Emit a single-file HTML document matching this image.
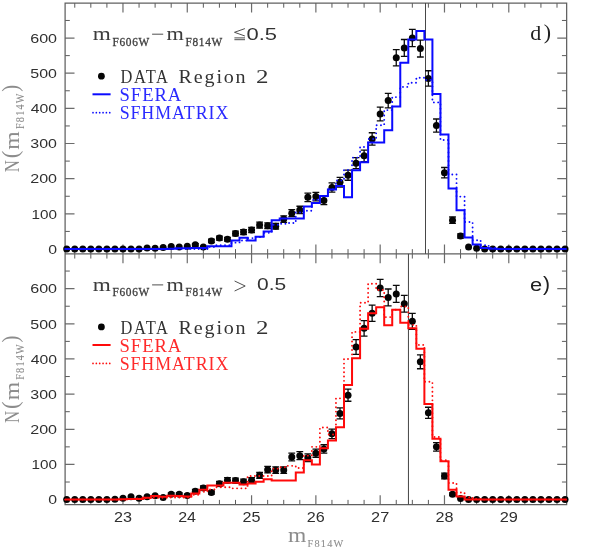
<!DOCTYPE html>
<html><head><meta charset="utf-8"><title>plot</title>
<style>
html,body{margin:0;padding:0;background:#fff;}
svg{display:block}
</style></head><body>
<svg width="598" height="557" viewBox="0 0 598 557">
<rect width="598" height="557" fill="#fff"/>
<!-- frame -->
<path d="M122.97 3.0v9.4 M122.97 244.45V263.25 M122.97 504.6v-9.4 M187.27 3.0v9.4 M187.27 244.45V263.25 M187.27 504.6v-9.4 M251.57 3.0v9.4 M251.57 244.45V263.25 M251.57 504.6v-9.4 M315.87 3.0v9.4 M315.87 244.45V263.25 M315.87 504.6v-9.4 M380.18 3.0v9.4 M380.18 244.45V263.25 M380.18 504.6v-9.4 M444.48 3.0v9.4 M444.48 244.45V263.25 M444.48 504.6v-9.4 M508.78 3.0v9.4 M508.78 244.45V263.25 M508.78 504.6v-9.4 M65.1 249.00h9.4M566.65 249.00h-9.4 M65.1 213.84h9.4M566.65 213.84h-9.4 M65.1 178.68h9.4M566.65 178.68h-9.4 M65.1 143.52h9.4M566.65 143.52h-9.4 M65.1 108.36h9.4M566.65 108.36h-9.4 M65.1 73.20h9.4M566.65 73.20h-9.4 M65.1 38.04h9.4M566.65 38.04h-9.4 M65.1 499.60h9.4M566.65 499.60h-9.4 M65.1 464.44h9.4M566.65 464.44h-9.4 M65.1 429.28h9.4M566.65 429.28h-9.4 M65.1 394.12h9.4M566.65 394.12h-9.4 M65.1 358.96h9.4M566.65 358.96h-9.4 M65.1 323.80h9.4M566.65 323.80h-9.4 M65.1 288.64h9.4M566.65 288.64h-9.4" stroke="#6c6c6c" stroke-width="1.2" fill="none"/>
<path d="M74.75 3.0v4.7 M74.75 249.15V258.55 M74.75 504.6v-4.7 M90.82 3.0v4.7 M90.82 249.15V258.55 M90.82 504.6v-4.7 M106.90 3.0v4.7 M106.90 249.15V258.55 M106.90 504.6v-4.7 M139.05 3.0v4.7 M139.05 249.15V258.55 M139.05 504.6v-4.7 M155.12 3.0v4.7 M155.12 249.15V258.55 M155.12 504.6v-4.7 M171.20 3.0v4.7 M171.20 249.15V258.55 M171.20 504.6v-4.7 M203.35 3.0v4.7 M203.35 249.15V258.55 M203.35 504.6v-4.7 M219.42 3.0v4.7 M219.42 249.15V258.55 M219.42 504.6v-4.7 M235.50 3.0v4.7 M235.50 249.15V258.55 M235.50 504.6v-4.7 M267.65 3.0v4.7 M267.65 249.15V258.55 M267.65 504.6v-4.7 M283.72 3.0v4.7 M283.72 249.15V258.55 M283.72 504.6v-4.7 M299.80 3.0v4.7 M299.80 249.15V258.55 M299.80 504.6v-4.7 M331.95 3.0v4.7 M331.95 249.15V258.55 M331.95 504.6v-4.7 M348.03 3.0v4.7 M348.03 249.15V258.55 M348.03 504.6v-4.7 M364.10 3.0v4.7 M364.10 249.15V258.55 M364.10 504.6v-4.7 M396.25 3.0v4.7 M396.25 249.15V258.55 M396.25 504.6v-4.7 M412.33 3.0v4.7 M412.33 249.15V258.55 M412.33 504.6v-4.7 M428.40 3.0v4.7 M428.40 249.15V258.55 M428.40 504.6v-4.7 M460.55 3.0v4.7 M460.55 249.15V258.55 M460.55 504.6v-4.7 M476.63 3.0v4.7 M476.63 249.15V258.55 M476.63 504.6v-4.7 M492.70 3.0v4.7 M492.70 249.15V258.55 M492.70 504.6v-4.7 M524.85 3.0v4.7 M524.85 249.15V258.55 M524.85 504.6v-4.7 M540.93 3.0v4.7 M540.93 249.15V258.55 M540.93 504.6v-4.7 M557.00 3.0v4.7 M557.00 249.15V258.55 M557.00 504.6v-4.7 M65.1 231.42h4.7M566.65 231.42h-4.7 M65.1 196.26h4.7M566.65 196.26h-4.7 M65.1 161.10h4.7M566.65 161.10h-4.7 M65.1 125.94h4.7M566.65 125.94h-4.7 M65.1 90.78h4.7M566.65 90.78h-4.7 M65.1 55.62h4.7M566.65 55.62h-4.7 M65.1 20.46h4.7M566.65 20.46h-4.7 M65.1 482.02h4.7M566.65 482.02h-4.7 M65.1 446.86h4.7M566.65 446.86h-4.7 M65.1 411.70h4.7M566.65 411.70h-4.7 M65.1 376.54h4.7M566.65 376.54h-4.7 M65.1 341.38h4.7M566.65 341.38h-4.7 M65.1 306.22h4.7M566.65 306.22h-4.7 M65.1 271.06h4.7M566.65 271.06h-4.7" stroke="#484848" stroke-width="0.9" fill="none"/>
<path d="M65.1 3.0H566.65V504.6H65.1Z M65.1 253.85H566.65" stroke="#606060" stroke-width="1.25" fill="none"/>
<!-- vertical marker lines -->
<path d="M425.5 3.0V253.85" stroke="#484848" stroke-width="1"/>
<path d="M408.45 253.85V504.6" stroke="#444" stroke-width="1"/>
<!-- dotted histograms -->
<!-- points -->
<circle cx="66.71" cy="249.00" r="3.5" fill="#050505"/>
<circle cx="74.75" cy="249.00" r="3.5" fill="#050505"/>
<circle cx="82.78" cy="249.00" r="3.5" fill="#050505"/>
<circle cx="90.82" cy="249.00" r="3.5" fill="#050505"/>
<circle cx="98.86" cy="249.00" r="3.5" fill="#050505"/>
<circle cx="106.90" cy="249.00" r="3.5" fill="#050505"/>
<circle cx="114.93" cy="249.00" r="3.5" fill="#050505"/>
<circle cx="122.97" cy="249.00" r="3.5" fill="#050505"/>
<circle cx="131.01" cy="249.00" r="3.5" fill="#050505"/>
<circle cx="139.05" cy="249.00" r="3.5" fill="#050505"/>
<circle cx="147.08" cy="247.95" r="3.5" fill="#050505"/>
<circle cx="155.12" cy="248.30" r="3.5" fill="#050505"/>
<circle cx="163.16" cy="247.59" r="3.5" fill="#050505"/>
<circle cx="171.20" cy="246.54" r="3.5" fill="#050505"/>
<circle cx="179.23" cy="246.89" r="3.5" fill="#050505"/>
<circle cx="187.27" cy="246.19" r="3.5" fill="#050505"/>
<path d="M195.31 243.56V246.00M191.91 243.56h6.8M191.91 246.00h6.8" stroke="#0a0a0a" stroke-width="1.3" fill="none"/>
<circle cx="195.31" cy="244.78" r="3.5" fill="#050505"/>
<circle cx="203.35" cy="246.89" r="3.5" fill="#050505"/>
<path d="M211.39 239.23V242.60M207.99 239.23h6.8M207.99 242.60h6.8" stroke="#0a0a0a" stroke-width="1.3" fill="none"/>
<circle cx="211.39" cy="240.91" r="3.5" fill="#050505"/>
<path d="M219.42 236.14V240.06M216.02 236.14h6.8M216.02 240.06h6.8" stroke="#0a0a0a" stroke-width="1.3" fill="none"/>
<circle cx="219.42" cy="238.10" r="3.5" fill="#050505"/>
<path d="M227.46 237.29V241.02M224.06 237.29h6.8M224.06 241.02h6.8" stroke="#0a0a0a" stroke-width="1.3" fill="none"/>
<circle cx="227.46" cy="239.16" r="3.5" fill="#050505"/>
<path d="M235.50 231.20V235.86M232.10 231.20h6.8M232.10 235.86h6.8" stroke="#0a0a0a" stroke-width="1.3" fill="none"/>
<circle cx="235.50" cy="233.53" r="3.5" fill="#050505"/>
<path d="M243.54 229.69V234.56M240.14 229.69h6.8M240.14 234.56h6.8" stroke="#0a0a0a" stroke-width="1.3" fill="none"/>
<circle cx="243.54" cy="232.12" r="3.5" fill="#050505"/>
<path d="M251.57 227.43V232.60M248.17 227.43h6.8M248.17 232.60h6.8" stroke="#0a0a0a" stroke-width="1.3" fill="none"/>
<circle cx="251.57" cy="230.01" r="3.5" fill="#050505"/>
<path d="M259.61 222.19V227.99M256.21 222.19h6.8M256.21 227.99h6.8" stroke="#0a0a0a" stroke-width="1.3" fill="none"/>
<circle cx="259.61" cy="225.09" r="3.5" fill="#050505"/>
<path d="M267.65 222.94V228.65M264.25 222.94h6.8M264.25 228.65h6.8" stroke="#0a0a0a" stroke-width="1.3" fill="none"/>
<circle cx="267.65" cy="225.79" r="3.5" fill="#050505"/>
<path d="M275.69 223.31V228.98M272.29 223.31h6.8M272.29 228.98h6.8" stroke="#0a0a0a" stroke-width="1.3" fill="none"/>
<circle cx="275.69" cy="226.15" r="3.5" fill="#050505"/>
<path d="M283.72 215.87V222.36M280.32 215.87h6.8M280.32 222.36h6.8" stroke="#0a0a0a" stroke-width="1.3" fill="none"/>
<circle cx="283.72" cy="219.11" r="3.5" fill="#050505"/>
<path d="M291.76 209.59V216.69M288.36 209.59h6.8M288.36 216.69h6.8" stroke="#0a0a0a" stroke-width="1.3" fill="none"/>
<circle cx="291.76" cy="213.14" r="3.5" fill="#050505"/>
<path d="M299.80 206.27V213.68M296.40 206.27h6.8M296.40 213.68h6.8" stroke="#0a0a0a" stroke-width="1.3" fill="none"/>
<circle cx="299.80" cy="209.97" r="3.5" fill="#050505"/>
<path d="M307.84 193.05V201.58M304.44 193.05h6.8M304.44 201.58h6.8" stroke="#0a0a0a" stroke-width="1.3" fill="none"/>
<circle cx="307.84" cy="197.31" r="3.5" fill="#050505"/>
<path d="M315.87 192.32V200.90M312.47 192.32h6.8M312.47 200.90h6.8" stroke="#0a0a0a" stroke-width="1.3" fill="none"/>
<circle cx="315.87" cy="196.61" r="3.5" fill="#050505"/>
<path d="M323.91 196.35V204.61M320.51 196.35h6.8M320.51 204.61h6.8" stroke="#0a0a0a" stroke-width="1.3" fill="none"/>
<circle cx="323.91" cy="200.48" r="3.5" fill="#050505"/>
<path d="M331.95 182.82V192.12M328.55 182.82h6.8M328.55 192.12h6.8" stroke="#0a0a0a" stroke-width="1.3" fill="none"/>
<circle cx="331.95" cy="187.47" r="3.5" fill="#050505"/>
<path d="M339.99 177.35V187.04M336.59 177.35h6.8M336.59 187.04h6.8" stroke="#0a0a0a" stroke-width="1.3" fill="none"/>
<circle cx="339.99" cy="182.20" r="3.5" fill="#050505"/>
<path d="M348.03 170.07V180.26M344.63 170.07h6.8M344.63 180.26h6.8" stroke="#0a0a0a" stroke-width="1.3" fill="none"/>
<circle cx="348.03" cy="175.16" r="3.5" fill="#050505"/>
<path d="M356.06 157.72V168.70M352.66 157.72h6.8M352.66 168.70h6.8" stroke="#0a0a0a" stroke-width="1.3" fill="none"/>
<circle cx="356.06" cy="163.21" r="3.5" fill="#050505"/>
<path d="M364.10 150.10V161.55M360.70 150.10h6.8M360.70 161.55h6.8" stroke="#0a0a0a" stroke-width="1.3" fill="none"/>
<circle cx="364.10" cy="155.83" r="3.5" fill="#050505"/>
<path d="M372.14 132.73V145.17M368.74 132.73h6.8M368.74 145.17h6.8" stroke="#0a0a0a" stroke-width="1.3" fill="none"/>
<circle cx="372.14" cy="138.95" r="3.5" fill="#050505"/>
<path d="M380.18 107.10V120.88M376.78 107.10h6.8M376.78 120.88h6.8" stroke="#0a0a0a" stroke-width="1.3" fill="none"/>
<circle cx="380.18" cy="113.99" r="3.5" fill="#050505"/>
<path d="M388.21 93.40V107.85M384.81 93.40h6.8M384.81 107.85h6.8" stroke="#0a0a0a" stroke-width="1.3" fill="none"/>
<circle cx="388.21" cy="100.62" r="3.5" fill="#050505"/>
<path d="M396.25 49.53V65.93M392.85 49.53h6.8M392.85 65.93h6.8" stroke="#0a0a0a" stroke-width="1.3" fill="none"/>
<circle cx="396.25" cy="57.73" r="3.5" fill="#050505"/>
<path d="M404.29 39.48V56.29M400.89 39.48h6.8M400.89 56.29h6.8" stroke="#0a0a0a" stroke-width="1.3" fill="none"/>
<circle cx="404.29" cy="47.88" r="3.5" fill="#050505"/>
<path d="M412.33 29.43V46.65M408.93 29.43h6.8M408.93 46.65h6.8" stroke="#0a0a0a" stroke-width="1.3" fill="none"/>
<circle cx="412.33" cy="38.04" r="3.5" fill="#050505"/>
<path d="M420.36 40.19V56.98M416.96 40.19h6.8M416.96 56.98h6.8" stroke="#0a0a0a" stroke-width="1.3" fill="none"/>
<circle cx="420.36" cy="48.59" r="3.5" fill="#050505"/>
<path d="M428.40 70.73V86.22M425.00 70.73h6.8M425.00 86.22h6.8" stroke="#0a0a0a" stroke-width="1.3" fill="none"/>
<circle cx="428.40" cy="78.47" r="3.5" fill="#050505"/>
<path d="M436.44 119.00V132.18M433.04 119.00h6.8M433.04 132.18h6.8" stroke="#0a0a0a" stroke-width="1.3" fill="none"/>
<circle cx="436.44" cy="125.59" r="3.5" fill="#050505"/>
<path d="M444.48 167.52V177.88M441.08 167.52h6.8M441.08 177.88h6.8" stroke="#0a0a0a" stroke-width="1.3" fill="none"/>
<circle cx="444.48" cy="172.70" r="3.5" fill="#050505"/>
<path d="M452.52 216.98V223.35M449.12 216.98h6.8M449.12 223.35h6.8" stroke="#0a0a0a" stroke-width="1.3" fill="none"/>
<circle cx="452.52" cy="220.17" r="3.5" fill="#050505"/>
<path d="M460.55 233.85V238.13M457.15 233.85h6.8M457.15 238.13h6.8" stroke="#0a0a0a" stroke-width="1.3" fill="none"/>
<circle cx="460.55" cy="235.99" r="3.5" fill="#050505"/>
<circle cx="468.59" cy="246.89" r="3.5" fill="#050505"/>
<circle cx="476.63" cy="248.30" r="3.5" fill="#050505"/>
<circle cx="484.67" cy="249.00" r="3.5" fill="#050505"/>
<circle cx="492.70" cy="249.00" r="3.5" fill="#050505"/>
<circle cx="500.74" cy="249.00" r="3.5" fill="#050505"/>
<circle cx="508.78" cy="249.00" r="3.5" fill="#050505"/>
<circle cx="516.82" cy="249.00" r="3.5" fill="#050505"/>
<circle cx="524.85" cy="249.00" r="3.5" fill="#050505"/>
<circle cx="532.89" cy="249.00" r="3.5" fill="#050505"/>
<circle cx="540.93" cy="249.00" r="3.5" fill="#050505"/>
<circle cx="548.97" cy="249.00" r="3.5" fill="#050505"/>
<circle cx="557.00" cy="249.00" r="3.5" fill="#050505"/>
<circle cx="565.04" cy="249.00" r="3.5" fill="#050505"/>
<circle cx="66.71" cy="499.60" r="3.5" fill="#050505"/>
<circle cx="74.75" cy="499.60" r="3.5" fill="#050505"/>
<circle cx="82.78" cy="499.60" r="3.5" fill="#050505"/>
<circle cx="90.82" cy="499.60" r="3.5" fill="#050505"/>
<circle cx="98.86" cy="499.60" r="3.5" fill="#050505"/>
<circle cx="106.90" cy="499.60" r="3.5" fill="#050505"/>
<circle cx="114.93" cy="499.25" r="3.5" fill="#050505"/>
<circle cx="122.97" cy="498.19" r="3.5" fill="#050505"/>
<circle cx="131.01" cy="496.79" r="3.5" fill="#050505"/>
<circle cx="139.05" cy="498.19" r="3.5" fill="#050505"/>
<circle cx="147.08" cy="496.79" r="3.5" fill="#050505"/>
<circle cx="155.12" cy="495.73" r="3.5" fill="#050505"/>
<circle cx="163.16" cy="497.49" r="3.5" fill="#050505"/>
<path d="M171.20 492.96V495.69M167.80 492.96h6.8M167.80 495.69h6.8" stroke="#0a0a0a" stroke-width="1.3" fill="none"/>
<circle cx="171.20" cy="494.33" r="3.5" fill="#050505"/>
<path d="M179.23 492.96V495.69M175.83 492.96h6.8M175.83 495.69h6.8" stroke="#0a0a0a" stroke-width="1.3" fill="none"/>
<circle cx="179.23" cy="494.33" r="3.5" fill="#050505"/>
<path d="M187.27 494.16V496.60M183.87 494.16h6.8M183.87 496.60h6.8" stroke="#0a0a0a" stroke-width="1.3" fill="none"/>
<circle cx="187.27" cy="495.38" r="3.5" fill="#050505"/>
<path d="M195.31 489.44V492.88M191.91 489.44h6.8M191.91 492.88h6.8" stroke="#0a0a0a" stroke-width="1.3" fill="none"/>
<circle cx="195.31" cy="491.16" r="3.5" fill="#050505"/>
<path d="M203.35 485.98V490.02M199.95 485.98h6.8M199.95 490.02h6.8" stroke="#0a0a0a" stroke-width="1.3" fill="none"/>
<circle cx="203.35" cy="488.00" r="3.5" fill="#050505"/>
<path d="M211.39 491.00V494.14M207.99 491.00h6.8M207.99 494.14h6.8" stroke="#0a0a0a" stroke-width="1.3" fill="none"/>
<circle cx="211.39" cy="492.57" r="3.5" fill="#050505"/>
<path d="M219.42 481.42V486.14M216.02 481.42h6.8M216.02 486.14h6.8" stroke="#0a0a0a" stroke-width="1.3" fill="none"/>
<circle cx="219.42" cy="483.78" r="3.5" fill="#050505"/>
<path d="M227.46 477.65V482.87M224.06 477.65h6.8M224.06 482.87h6.8" stroke="#0a0a0a" stroke-width="1.3" fill="none"/>
<circle cx="227.46" cy="480.26" r="3.5" fill="#050505"/>
<path d="M235.50 478.03V483.20M232.10 478.03h6.8M232.10 483.20h6.8" stroke="#0a0a0a" stroke-width="1.3" fill="none"/>
<circle cx="235.50" cy="480.61" r="3.5" fill="#050505"/>
<path d="M243.54 479.16V484.18M240.14 479.16h6.8M240.14 484.18h6.8" stroke="#0a0a0a" stroke-width="1.3" fill="none"/>
<circle cx="243.54" cy="481.67" r="3.5" fill="#050505"/>
<path d="M251.57 477.65V482.87M248.17 477.65h6.8M248.17 482.87h6.8" stroke="#0a0a0a" stroke-width="1.3" fill="none"/>
<circle cx="251.57" cy="480.26" r="3.5" fill="#050505"/>
<path d="M259.61 472.42V478.26M256.21 472.42h6.8M256.21 478.26h6.8" stroke="#0a0a0a" stroke-width="1.3" fill="none"/>
<circle cx="259.61" cy="475.34" r="3.5" fill="#050505"/>
<path d="M267.65 466.47V472.96M264.25 466.47h6.8M264.25 472.96h6.8" stroke="#0a0a0a" stroke-width="1.3" fill="none"/>
<circle cx="267.65" cy="469.71" r="3.5" fill="#050505"/>
<path d="M275.69 466.84V473.29M272.29 466.84h6.8M272.29 473.29h6.8" stroke="#0a0a0a" stroke-width="1.3" fill="none"/>
<circle cx="275.69" cy="470.07" r="3.5" fill="#050505"/>
<path d="M283.72 466.84V473.29M280.32 466.84h6.8M280.32 473.29h6.8" stroke="#0a0a0a" stroke-width="1.3" fill="none"/>
<circle cx="283.72" cy="470.07" r="3.5" fill="#050505"/>
<path d="M291.76 453.19V460.92M288.36 453.19h6.8M288.36 460.92h6.8" stroke="#0a0a0a" stroke-width="1.3" fill="none"/>
<circle cx="291.76" cy="457.06" r="3.5" fill="#050505"/>
<path d="M299.80 451.72V459.58M296.40 451.72h6.8M296.40 459.58h6.8" stroke="#0a0a0a" stroke-width="1.3" fill="none"/>
<circle cx="299.80" cy="455.65" r="3.5" fill="#050505"/>
<path d="M307.84 453.92V461.60M304.44 453.92h6.8M304.44 461.60h6.8" stroke="#0a0a0a" stroke-width="1.3" fill="none"/>
<circle cx="307.84" cy="457.76" r="3.5" fill="#050505"/>
<path d="M315.87 449.15V457.23M312.47 449.15h6.8M312.47 457.23h6.8" stroke="#0a0a0a" stroke-width="1.3" fill="none"/>
<circle cx="315.87" cy="453.19" r="3.5" fill="#050505"/>
<path d="M323.91 444.75V453.19M320.51 444.75h6.8M320.51 453.19h6.8" stroke="#0a0a0a" stroke-width="1.3" fill="none"/>
<circle cx="323.91" cy="448.97" r="3.5" fill="#050505"/>
<path d="M331.95 429.04V438.66M328.55 429.04h6.8M328.55 438.66h6.8" stroke="#0a0a0a" stroke-width="1.3" fill="none"/>
<circle cx="331.95" cy="433.85" r="3.5" fill="#050505"/>
<path d="M339.99 407.95V418.96M336.59 407.95h6.8M336.59 418.96h6.8" stroke="#0a0a0a" stroke-width="1.3" fill="none"/>
<circle cx="339.99" cy="413.46" r="3.5" fill="#050505"/>
<path d="M348.03 389.12V401.23M344.63 389.12h6.8M344.63 401.23h6.8" stroke="#0a0a0a" stroke-width="1.3" fill="none"/>
<circle cx="348.03" cy="395.17" r="3.5" fill="#050505"/>
<path d="M356.06 339.68V354.33M352.66 339.68h6.8M352.66 354.33h6.8" stroke="#0a0a0a" stroke-width="1.3" fill="none"/>
<circle cx="356.06" cy="347.01" r="3.5" fill="#050505"/>
<path d="M364.10 320.61V336.13M360.70 320.61h6.8M360.70 336.13h6.8" stroke="#0a0a0a" stroke-width="1.3" fill="none"/>
<circle cx="364.10" cy="328.37" r="3.5" fill="#050505"/>
<path d="M372.14 305.16V321.35M368.74 305.16h6.8M368.74 321.35h6.8" stroke="#0a0a0a" stroke-width="1.3" fill="none"/>
<circle cx="372.14" cy="313.25" r="3.5" fill="#050505"/>
<path d="M380.18 279.31V296.56M376.78 279.31h6.8M376.78 296.56h6.8" stroke="#0a0a0a" stroke-width="1.3" fill="none"/>
<circle cx="380.18" cy="287.94" r="3.5" fill="#050505"/>
<path d="M388.21 289.00V305.86M384.81 289.00h6.8M384.81 305.86h6.8" stroke="#0a0a0a" stroke-width="1.3" fill="none"/>
<circle cx="388.21" cy="297.43" r="3.5" fill="#050505"/>
<path d="M396.25 285.41V302.42M392.85 285.41h6.8M392.85 302.42h6.8" stroke="#0a0a0a" stroke-width="1.3" fill="none"/>
<circle cx="396.25" cy="293.91" r="3.5" fill="#050505"/>
<path d="M404.29 295.46V312.06M400.89 295.46h6.8M400.89 312.06h6.8" stroke="#0a0a0a" stroke-width="1.3" fill="none"/>
<circle cx="404.29" cy="303.76" r="3.5" fill="#050505"/>
<path d="M412.33 313.42V329.26M408.93 313.42h6.8M408.93 329.26h6.8" stroke="#0a0a0a" stroke-width="1.3" fill="none"/>
<circle cx="412.33" cy="321.34" r="3.5" fill="#050505"/>
<path d="M420.36 354.81V368.73M416.96 354.81h6.8M416.96 368.73h6.8" stroke="#0a0a0a" stroke-width="1.3" fill="none"/>
<circle cx="420.36" cy="361.77" r="3.5" fill="#050505"/>
<path d="M428.40 407.23V418.28M425.00 407.23h6.8M425.00 418.28h6.8" stroke="#0a0a0a" stroke-width="1.3" fill="none"/>
<circle cx="428.40" cy="412.75" r="3.5" fill="#050505"/>
<path d="M436.44 442.55V451.17M433.04 442.55h6.8M433.04 451.17h6.8" stroke="#0a0a0a" stroke-width="1.3" fill="none"/>
<circle cx="436.44" cy="446.86" r="3.5" fill="#050505"/>
<path d="M444.48 473.16V478.92M441.08 473.16h6.8M441.08 478.92h6.8" stroke="#0a0a0a" stroke-width="1.3" fill="none"/>
<circle cx="444.48" cy="476.04" r="3.5" fill="#050505"/>
<path d="M452.52 492.96V495.69M449.12 492.96h6.8M449.12 495.69h6.8" stroke="#0a0a0a" stroke-width="1.3" fill="none"/>
<circle cx="452.52" cy="494.33" r="3.5" fill="#050505"/>
<circle cx="460.55" cy="498.55" r="3.5" fill="#050505"/>
<circle cx="468.59" cy="499.60" r="3.5" fill="#050505"/>
<circle cx="476.63" cy="499.60" r="3.5" fill="#050505"/>
<circle cx="484.67" cy="499.60" r="3.5" fill="#050505"/>
<circle cx="492.70" cy="499.60" r="3.5" fill="#050505"/>
<circle cx="500.74" cy="499.60" r="3.5" fill="#050505"/>
<circle cx="508.78" cy="499.60" r="3.5" fill="#050505"/>
<circle cx="516.82" cy="499.60" r="3.5" fill="#050505"/>
<circle cx="524.85" cy="499.60" r="3.5" fill="#050505"/>
<circle cx="532.89" cy="499.60" r="3.5" fill="#050505"/>
<circle cx="540.93" cy="499.60" r="3.5" fill="#050505"/>
<circle cx="548.97" cy="499.60" r="3.5" fill="#050505"/>
<circle cx="557.00" cy="499.60" r="3.5" fill="#050505"/>
<circle cx="565.04" cy="499.60" r="3.5" fill="#050505"/>
<!-- solid histograms -->
<path d="M65.10 249.00 L70.73 249.00 L70.73 249.00 L78.76 249.00 L78.76 249.00 L86.80 249.00 L86.80 249.00 L94.84 249.00 L94.84 249.00 L102.88 249.00 L102.88 249.00 L110.91 249.00 L110.91 249.00 L118.95 249.00 L118.95 249.00 L126.99 249.00 L126.99 249.00 L135.03 249.00 L135.03 249.00 L143.07 249.00 L143.07 249.00 L151.10 249.00 L151.10 249.00 L159.14 249.00 L159.14 249.00 L167.18 249.00 L167.18 248.65 L175.22 248.65 L175.22 248.30 L183.25 248.30 L183.25 248.30 L191.29 248.30 L191.29 247.95 L199.33 247.95 L199.33 247.95 L207.37 247.95 L207.37 246.19 L215.40 246.19 L215.40 246.19 L223.44 246.19 L223.44 246.19 L231.48 246.19 L231.48 240.56 L239.52 240.56 L239.52 237.75 L247.55 237.75 L247.55 240.56 L255.59 240.56 L255.59 236.69 L263.63 236.69 L263.63 231.42 L271.67 231.42 L271.67 220.17 L279.71 220.17 L279.71 218.41 L287.74 218.41 L287.74 218.41 L295.78 218.41 L295.78 218.41 L303.82 218.41 L303.82 206.46 L311.86 206.46 L311.86 202.94 L319.89 202.94 L319.89 195.91 L327.93 195.91 L327.93 189.58 L335.97 189.58 L335.97 186.06 L344.01 186.06 L344.01 197.31 L352.04 197.31 L352.04 170.24 L360.08 170.24 L360.08 162.15 L368.12 162.15 L368.12 142.47 L376.16 142.47 L376.16 142.47 L384.20 142.47 L384.20 130.16 L392.23 130.16 L392.23 106.60 L400.27 106.60 L400.27 62.65 L408.31 62.65 L408.31 39.45 L416.35 39.45 L416.35 31.01 L424.38 31.01 L424.38 39.45 L432.42 39.45 L432.42 93.94 L440.46 93.94 L440.46 134.38 L448.50 134.38 L448.50 188.52 L456.53 188.52 L456.53 210.32 L464.57 210.32 L464.57 237.40 L472.61 237.40 L472.61 244.43 L480.65 244.43 L480.65 247.95 L488.68 247.95 L488.68 248.65 L496.72 248.65 L496.72 249.00 L504.76 249.00 L504.76 249.00 L512.80 249.00 L512.80 249.00 L520.84 249.00 L520.84 249.00 L528.87 249.00 L528.87 249.00 L536.91 249.00 L536.91 249.00 L544.95 249.00 L544.95 249.00 L552.99 249.00 L552.99 249.00 L561.02 249.00 L561.02 249.00 L566.65 249.00" fill="none" stroke="#0a0aff" stroke-width="2" stroke-linejoin="miter"/>
<path d="M65.10 499.60 L70.73 499.60 L70.73 499.60 L78.76 499.60 L78.76 499.60 L86.80 499.60 L86.80 499.60 L94.84 499.60 L94.84 499.60 L102.88 499.60 L102.88 499.60 L110.91 499.60 L110.91 499.60 L118.95 499.60 L118.95 499.25 L126.99 499.25 L126.99 498.90 L135.03 498.90 L135.03 498.90 L143.07 498.90 L143.07 497.84 L151.10 497.84 L151.10 496.08 L159.14 496.08 L159.14 496.79 L167.18 496.79 L167.18 495.73 L175.22 495.73 L175.22 496.08 L183.25 496.08 L183.25 496.44 L191.29 496.44 L191.29 493.62 L199.33 493.62 L199.33 489.76 L207.37 489.76 L207.37 485.54 L215.40 485.54 L215.40 485.54 L223.44 485.54 L223.44 482.72 L231.48 482.72 L231.48 482.72 L239.52 482.72 L239.52 484.48 L247.55 484.48 L247.55 483.43 L255.59 483.43 L255.59 481.67 L263.63 481.67 L263.63 479.21 L271.67 479.21 L271.67 480.61 L279.71 480.61 L279.71 480.61 L287.74 480.61 L287.74 480.61 L295.78 480.61 L295.78 472.53 L303.82 472.53 L303.82 460.22 L311.86 460.22 L311.86 464.44 L319.89 464.44 L319.89 448.27 L327.93 448.27 L327.93 440.53 L335.97 440.53 L335.97 427.17 L344.01 427.17 L344.01 384.98 L352.04 384.98 L352.04 358.26 L360.08 358.26 L360.08 328.72 L368.12 328.72 L368.12 313.25 L376.16 313.25 L376.16 307.27 L384.20 307.27 L384.20 325.21 L392.23 325.21 L392.23 309.74 L400.27 309.74 L400.27 322.75 L408.31 322.75 L408.31 328.37 L416.35 328.37 L416.35 348.76 L424.38 348.76 L424.38 403.96 L432.42 403.96 L432.42 438.77 L440.46 438.77 L440.46 461.28 L448.50 461.28 L448.50 489.76 L456.53 489.76 L456.53 496.44 L464.57 496.44 L464.57 499.60 L472.61 499.60 L472.61 499.60 L480.65 499.60 L480.65 499.60 L488.68 499.60 L488.68 499.60 L496.72 499.60 L496.72 499.60 L504.76 499.60 L504.76 499.60 L512.80 499.60 L512.80 499.60 L520.84 499.60 L520.84 499.60 L528.87 499.60 L528.87 499.60 L536.91 499.60 L536.91 499.60 L544.95 499.60 L544.95 499.60 L552.99 499.60 L552.99 499.60 L561.02 499.60 L561.02 499.60 L566.65 499.60" fill="none" stroke="#ff0a0a" stroke-width="2" stroke-linejoin="miter"/>
<!-- dotted histograms -->
<path d="M65.10 249.00 L70.73 249.00 L70.73 249.00 L78.76 249.00 L78.76 249.00 L86.80 249.00 L86.80 249.00 L94.84 249.00 L94.84 249.00 L102.88 249.00 L102.88 249.00 L110.91 249.00 L110.91 249.00 L118.95 249.00 L118.95 249.00 L126.99 249.00 L126.99 249.00 L135.03 249.00 L135.03 249.00 L143.07 249.00 L143.07 249.00 L151.10 249.00 L151.10 249.00 L159.14 249.00 L159.14 249.00 L167.18 249.00 L167.18 249.00 L175.22 249.00 L175.22 249.00 L183.25 249.00 L183.25 249.00 L191.29 249.00 L191.29 249.00 L199.33 249.00 L199.33 249.00 L207.37 249.00 L207.37 246.89 L215.40 246.89 L215.40 245.13 L223.44 245.13 L223.44 245.13 L231.48 245.13 L231.48 242.67 L239.52 242.67 L239.52 240.56 L247.55 240.56 L247.55 238.10 L255.59 238.10 L255.59 237.05 L263.63 237.05 L263.63 232.83 L271.67 232.83 L271.67 224.74 L279.71 224.74 L279.71 223.68 L287.74 223.68 L287.74 222.98 L295.78 222.98 L295.78 212.43 L303.82 212.43 L303.82 210.68 L311.86 210.68 L311.86 199.78 L319.89 199.78 L319.89 196.26 L327.93 196.26 L327.93 189.23 L335.97 189.23 L335.97 180.44 L344.01 180.44 L344.01 169.89 L352.04 169.89 L352.04 157.58 L360.08 157.58 L360.08 147.04 L368.12 147.04 L368.12 138.95 L376.16 138.95 L376.16 125.24 L384.20 125.24 L384.20 110.12 L392.23 110.12 L392.23 97.11 L400.27 97.11 L400.27 86.91 L408.31 86.91 L408.31 82.69 L416.35 82.69 L416.35 77.77 L424.38 77.77 L424.38 79.88 L432.42 79.88 L432.42 102.38 L440.46 102.38 L440.46 140.00 L448.50 140.00 L448.50 174.46 L456.53 174.46 L456.53 196.61 L464.57 196.61 L464.57 221.93 L472.61 221.93 L472.61 240.21 L480.65 240.21 L480.65 245.13 L488.68 245.13 L488.68 247.95 L496.72 247.95 L496.72 249.00 L504.76 249.00 L504.76 249.00 L512.80 249.00 L512.80 249.00 L520.84 249.00 L520.84 249.00 L528.87 249.00 L528.87 249.00 L536.91 249.00 L536.91 249.00 L544.95 249.00 L544.95 249.00 L552.99 249.00 L552.99 249.00 L561.02 249.00 L561.02 249.00 L566.65 249.00" fill="none" stroke="#0a0aff" stroke-width="1.9" stroke-linecap="round" stroke-dasharray="0.01 4.3"/>
<path d="M65.10 499.60 L70.73 499.60 L70.73 499.60 L78.76 499.60 L78.76 499.60 L86.80 499.60 L86.80 499.60 L94.84 499.60 L94.84 499.60 L102.88 499.60 L102.88 499.60 L110.91 499.60 L110.91 499.60 L118.95 499.60 L118.95 499.60 L126.99 499.60 L126.99 498.90 L135.03 498.90 L135.03 498.55 L143.07 498.55 L143.07 498.19 L151.10 498.19 L151.10 497.84 L159.14 497.84 L159.14 497.84 L167.18 497.84 L167.18 497.49 L175.22 497.49 L175.22 497.49 L183.25 497.49 L183.25 497.49 L191.29 497.49 L191.29 494.68 L199.33 494.68 L199.33 491.86 L207.37 491.86 L207.37 489.40 L215.40 489.40 L215.40 487.29 L223.44 487.29 L223.44 487.29 L231.48 487.29 L231.48 488.35 L239.52 488.35 L239.52 488.35 L247.55 488.35 L247.55 476.04 L255.59 476.04 L255.59 476.04 L263.63 476.04 L263.63 476.04 L271.67 476.04 L271.67 468.66 L279.71 468.66 L279.71 467.25 L287.74 467.25 L287.74 465.85 L295.78 465.85 L295.78 467.96 L303.82 467.96 L303.82 455.65 L311.86 455.65 L311.86 446.86 L319.89 446.86 L319.89 427.52 L327.93 427.52 L327.93 434.55 L335.97 434.55 L335.97 398.34 L344.01 398.34 L344.01 358.96 L352.04 358.96 L352.04 331.89 L360.08 331.89 L360.08 302.70 L368.12 302.70 L368.12 283.72 L376.16 283.72 L376.16 290.05 L384.20 290.05 L384.20 317.12 L392.23 317.12 L392.23 309.74 L400.27 309.74 L400.27 306.57 L408.31 306.57 L408.31 324.85 L416.35 324.85 L416.35 344.90 L424.38 344.90 L424.38 381.81 L432.42 381.81 L432.42 437.02 L440.46 437.02 L440.46 460.22 L448.50 460.22 L448.50 483.07 L456.53 483.07 L456.53 492.57 L464.57 492.57 L464.57 497.14 L472.61 497.14 L472.61 498.90 L480.65 498.90 L480.65 499.60 L488.68 499.60 L488.68 499.60 L496.72 499.60 L496.72 499.60 L504.76 499.60 L504.76 499.60 L512.80 499.60 L512.80 499.60 L520.84 499.60 L520.84 499.60 L528.87 499.60 L528.87 499.60 L536.91 499.60 L536.91 499.60 L544.95 499.60 L544.95 499.60 L552.99 499.60 L552.99 499.60 L561.02 499.60 L561.02 499.60 L566.65 499.60" fill="none" stroke="#ff0a0a" stroke-width="1.9" stroke-linecap="round" stroke-dasharray="0.01 4.3"/>
<circle cx="101.4" cy="76.20" r="3.4" fill="#050505"/>
<path d="M92.5 94.30H110.6" stroke="#0a0aff" stroke-width="2"/>
<path d="M93.0 112.70H110.8" stroke="#0a0aff" stroke-width="1.7" stroke-linecap="round" stroke-dasharray="0.01 3.34"/>
<circle cx="101.4" cy="326.90" r="3.4" fill="#050505"/>
<path d="M92.5 345.00H110.6" stroke="#ff0a0a" stroke-width="2"/>
<path d="M93.0 363.40H110.8" stroke="#ff0a0a" stroke-width="1.7" stroke-linecap="round" stroke-dasharray="0.01 3.34"/>
<path d="M152.1 34.20H163.2" stroke="#3c3c3c" stroke-width="0.9"/>
<path d="M152.1 284.90H163.2" stroke="#3c3c3c" stroke-width="0.9"/>
<path d="M244.9 28.6L234.5 32.3L244.9 36.0M234.4 37.9H245M234.4 39.7H245" stroke="#3c3c3c" stroke-width="0.9" fill="none"/>
<path d="M234.6 281.00L245.2 286.00L234.6 291.00" stroke="#3c3c3c" stroke-width="0.9" fill="none"/>
<g opacity="0.999">
<text transform="translate(48.17 253.71) scale(0.1583 0.1366)" font-size="100" font-family="Liberation Sans" font-weight="normal" fill="#303030" letter-spacing="0" >0</text>
<text transform="translate(31.48 218.55) scale(0.1529 0.1366)" font-size="100" font-family="Liberation Sans" font-weight="normal" fill="#303030" letter-spacing="0" >100</text>
<text transform="translate(30.20 183.39) scale(0.1608 0.1366)" font-size="100" font-family="Liberation Sans" font-weight="normal" fill="#303030" letter-spacing="0" >200</text>
<text transform="translate(30.36 148.23) scale(0.1597 0.1366)" font-size="100" font-family="Liberation Sans" font-weight="normal" fill="#303030" letter-spacing="0" >300</text>
<text transform="translate(30.68 113.07) scale(0.1578 0.1366)" font-size="100" font-family="Liberation Sans" font-weight="normal" fill="#303030" letter-spacing="0" >400</text>
<text transform="translate(30.36 77.91) scale(0.1597 0.1366)" font-size="100" font-family="Liberation Sans" font-weight="normal" fill="#303030" letter-spacing="0" >500</text>
<text transform="translate(30.20 42.75) scale(0.1608 0.1366)" font-size="100" font-family="Liberation Sans" font-weight="normal" fill="#303030" letter-spacing="0" >600</text>
<text transform="translate(48.17 504.31) scale(0.1583 0.1366)" font-size="100" font-family="Liberation Sans" font-weight="normal" fill="#303030" letter-spacing="0" >0</text>
<text transform="translate(31.48 469.15) scale(0.1529 0.1366)" font-size="100" font-family="Liberation Sans" font-weight="normal" fill="#303030" letter-spacing="0" >100</text>
<text transform="translate(30.20 433.99) scale(0.1608 0.1366)" font-size="100" font-family="Liberation Sans" font-weight="normal" fill="#303030" letter-spacing="0" >200</text>
<text transform="translate(30.36 398.83) scale(0.1597 0.1366)" font-size="100" font-family="Liberation Sans" font-weight="normal" fill="#303030" letter-spacing="0" >300</text>
<text transform="translate(30.68 363.67) scale(0.1578 0.1366)" font-size="100" font-family="Liberation Sans" font-weight="normal" fill="#303030" letter-spacing="0" >400</text>
<text transform="translate(30.36 328.51) scale(0.1597 0.1366)" font-size="100" font-family="Liberation Sans" font-weight="normal" fill="#303030" letter-spacing="0" >500</text>
<text transform="translate(30.20 293.35) scale(0.1608 0.1366)" font-size="100" font-family="Liberation Sans" font-weight="normal" fill="#303030" letter-spacing="0" >600</text>
<text transform="translate(113.91 522.06) scale(0.1618 0.1394)" font-size="100" font-family="Liberation Sans" font-weight="normal" fill="#303030" letter-spacing="0" >23</text>
<text transform="translate(178.22 522.20) scale(0.1602 0.1414)" font-size="100" font-family="Liberation Sans" font-weight="normal" fill="#303030" letter-spacing="0" >24</text>
<text transform="translate(242.51 522.06) scale(0.1618 0.1394)" font-size="100" font-family="Liberation Sans" font-weight="normal" fill="#303030" letter-spacing="0" >25</text>
<text transform="translate(306.82 522.06) scale(0.1618 0.1394)" font-size="100" font-family="Liberation Sans" font-weight="normal" fill="#303030" letter-spacing="0" >26</text>
<text transform="translate(371.11 522.20) scale(0.1634 0.1414)" font-size="100" font-family="Liberation Sans" font-weight="normal" fill="#303030" letter-spacing="0" >27</text>
<text transform="translate(435.42 522.06) scale(0.1618 0.1394)" font-size="100" font-family="Liberation Sans" font-weight="normal" fill="#303030" letter-spacing="0" >28</text>
<text transform="translate(499.71 522.06) scale(0.1634 0.1394)" font-size="100" font-family="Liberation Sans" font-weight="normal" fill="#303030" letter-spacing="0" >29</text>
<text transform="translate(92.74 39.90) scale(0.2324 0.1957)" font-size="100" font-family="Liberation Serif" font-weight="normal" fill="#3c3c3c" letter-spacing="0" >m</text>
<text transform="translate(112.46 45.76) scale(0.1137 0.1194)" font-size="100" font-family="Liberation Serif" font-weight="normal" fill="#3c3c3c" letter-spacing="6" stroke="#3c3c3c" stroke-width="2.5">F606W</text>
<text transform="translate(166.45 39.90) scale(0.2230 0.1957)" font-size="100" font-family="Liberation Serif" font-weight="normal" fill="#3c3c3c" letter-spacing="0" >m</text>
<text transform="translate(185.46 45.76) scale(0.1134 0.1176)" font-size="100" font-family="Liberation Serif" font-weight="normal" fill="#3c3c3c" letter-spacing="6" stroke="#3c3c3c" stroke-width="2.5">F814W</text>
<text transform="translate(120.41 82.90) scale(0.1646 0.1955)" font-size="100" font-family="Liberation Serif" font-weight="normal" fill="#333" letter-spacing="10" >DATA</text>
<text transform="translate(178.60 82.90) scale(0.2009 0.1985)" font-size="100" font-family="Liberation Serif" font-weight="normal" fill="#333" letter-spacing="9" >Region</text>
<text transform="translate(256.00 82.90) scale(0.2500 0.1985)" font-size="100" font-family="Liberation Serif" font-weight="normal" fill="#333" letter-spacing="0" >2</text>
<text transform="translate(92.74 290.60) scale(0.2324 0.1957)" font-size="100" font-family="Liberation Serif" font-weight="normal" fill="#3c3c3c" letter-spacing="0" >m</text>
<text transform="translate(112.46 296.46) scale(0.1137 0.1194)" font-size="100" font-family="Liberation Serif" font-weight="normal" fill="#3c3c3c" letter-spacing="6" stroke="#3c3c3c" stroke-width="2.5">F606W</text>
<text transform="translate(166.45 290.60) scale(0.2230 0.1957)" font-size="100" font-family="Liberation Serif" font-weight="normal" fill="#3c3c3c" letter-spacing="0" >m</text>
<text transform="translate(185.46 296.46) scale(0.1134 0.1176)" font-size="100" font-family="Liberation Serif" font-weight="normal" fill="#3c3c3c" letter-spacing="6" stroke="#3c3c3c" stroke-width="2.5">F814W</text>
<text transform="translate(120.41 333.60) scale(0.1646 0.1955)" font-size="100" font-family="Liberation Serif" font-weight="normal" fill="#333" letter-spacing="10" >DATA</text>
<text transform="translate(178.60 333.60) scale(0.2009 0.1985)" font-size="100" font-family="Liberation Serif" font-weight="normal" fill="#333" letter-spacing="9" >Region</text>
<text transform="translate(256.00 333.60) scale(0.2500 0.1985)" font-size="100" font-family="Liberation Serif" font-weight="normal" fill="#333" letter-spacing="0" >2</text>
<text transform="translate(246.52 39.54) scale(0.2198 0.1648)" font-size="100" font-family="Liberation Sans" font-weight="normal" fill="#333" letter-spacing="0" >0.5</text>
<text transform="translate(257.06 290.33) scale(0.2099 0.1718)" font-size="100" font-family="Liberation Sans" font-weight="normal" fill="#333" letter-spacing="0" >0.5</text>
<text transform="translate(119.60 100.91) scale(0.1861 0.1971)" font-size="100" font-family="Liberation Serif" font-weight="normal" fill="#2a2aff" letter-spacing="5" >SFERA</text>
<text transform="translate(119.65 119.31) scale(0.1791 0.1971)" font-size="100" font-family="Liberation Serif" font-weight="normal" fill="#2a2aff" letter-spacing="5" >SFHMATRIX</text>
<text transform="translate(119.60 351.61) scale(0.1861 0.1971)" font-size="100" font-family="Liberation Serif" font-weight="normal" fill="#ff2a2a" letter-spacing="5" >SFERA</text>
<text transform="translate(119.65 370.01) scale(0.1791 0.1971)" font-size="100" font-family="Liberation Serif" font-weight="normal" fill="#ff2a2a" letter-spacing="5" >SFHMATRIX</text>
<text transform="translate(530.22 39.70) scale(0.2200 0.2043)" font-size="100" font-family="Liberation Serif" font-weight="normal" fill="#222" letter-spacing="0" >d</text>
<text transform="translate(543.64 39.12) scale(0.2192 0.2133)" font-size="100" font-family="Liberation Serif" font-weight="normal" fill="#222" letter-spacing="0" >)</text>
<text transform="translate(530.12 290.72) scale(0.2191 0.1782)" font-size="100" font-family="Liberation Sans" font-weight="normal" fill="#222" letter-spacing="0" >e</text>
<text transform="translate(542.99 290.50) scale(0.2115 0.2096)" font-size="100" font-family="Liberation Sans" font-weight="normal" fill="#222" letter-spacing="0" >)</text>
<text transform="translate(287.93 542.20) scale(0.2351 0.2000)" font-size="100" font-family="Liberation Serif" font-weight="normal" fill="#8c8c8c" letter-spacing="0" >m</text>
<text transform="translate(307.49 547.08) scale(0.1029 0.1118)" font-size="100" font-family="Liberation Serif" font-weight="normal" fill="#8c8c8c" letter-spacing="12" stroke="#8c8c8c" stroke-width="1">F814W</text>
<g transform="rotate(-90)">
<text transform="translate(-172.31 18.80) scale(0.1687 0.2154)" font-size="100" font-family="Liberation Serif" font-weight="normal" fill="#8c8c8c" letter-spacing="0" >N</text>
<text transform="translate(-158.21 17.96) scale(0.2269 0.2211)" font-size="100" font-family="Liberation Serif" font-weight="normal" fill="#8c8c8c" letter-spacing="0" >(</text>
<text transform="translate(-149.67 18.80) scale(0.2365 0.2043)" font-size="100" font-family="Liberation Serif" font-weight="normal" fill="#8c8c8c" letter-spacing="0" >m</text>
<text transform="translate(-129.11 24.35) scale(0.1023 0.1235)" font-size="100" font-family="Liberation Serif" font-weight="normal" fill="#8c8c8c" letter-spacing="12" stroke="#8c8c8c" stroke-width="1">F814W</text>
<text transform="translate(-91.82 17.96) scale(0.2077 0.2211)" font-size="100" font-family="Liberation Serif" font-weight="normal" fill="#8c8c8c" letter-spacing="0" >)</text>
<text transform="translate(-423.01 18.80) scale(0.1687 0.2154)" font-size="100" font-family="Liberation Serif" font-weight="normal" fill="#8c8c8c" letter-spacing="0" >N</text>
<text transform="translate(-408.91 17.96) scale(0.2269 0.2211)" font-size="100" font-family="Liberation Serif" font-weight="normal" fill="#8c8c8c" letter-spacing="0" >(</text>
<text transform="translate(-400.37 18.80) scale(0.2365 0.2043)" font-size="100" font-family="Liberation Serif" font-weight="normal" fill="#8c8c8c" letter-spacing="0" >m</text>
<text transform="translate(-379.81 24.35) scale(0.1023 0.1235)" font-size="100" font-family="Liberation Serif" font-weight="normal" fill="#8c8c8c" letter-spacing="12" stroke="#8c8c8c" stroke-width="1">F814W</text>
<text transform="translate(-342.52 17.96) scale(0.2077 0.2211)" font-size="100" font-family="Liberation Serif" font-weight="normal" fill="#8c8c8c" letter-spacing="0" >)</text>
</g>
</g>
</svg>
</body></html>
